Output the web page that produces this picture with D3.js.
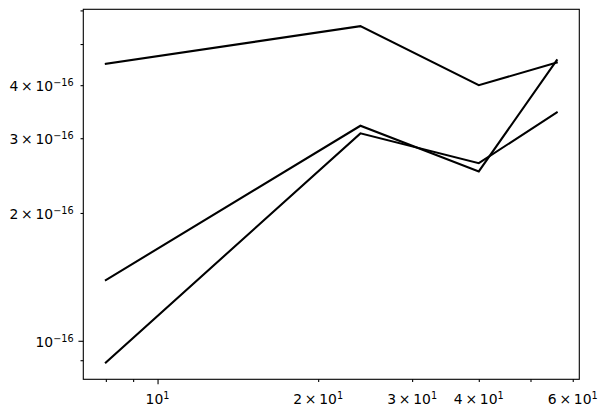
<!DOCTYPE html>
<html>
<head>
<meta charset="utf-8">
<script src="https://cdn.jsdelivr.net/npm/d3@7"></script>
<style>
  html, body { margin: 0; padding: 0; background: #fff; }
  svg { display: block; }
  text { font-family: "DejaVu Sans", sans-serif; }
</style>
</head>
<body>
<svg id="chart" width="607" height="417"></svg>
<script>
// ---- data ----
const xValues = [8, 24, 40, 56];
const seriesA = [4.49e-16, 5.51e-16, 4.00e-16, 4.52e-16];
const seriesB = [1.39e-16, 3.21e-16, 2.505e-16, 4.58e-16];
const seriesC = [0.889e-16, 3.08e-16, 2.62e-16, 3.45e-16];
const allSeries = [seriesA, seriesB, seriesC];

const xMajorTicks = [10];
const xMinorTicks = [8, 9, 20, 30, 40, 50, 60];
const xTickLabels = [
  { v: 10, main: "10", sup: "1" },
  { v: 20, main: "2\u2009\u00d7\u200910", sup: "1" },
  { v: 30, main: "3\u2009\u00d7\u200910", sup: "1" },
  { v: 40, main: "4\u2009\u00d7\u200910", sup: "1" },
  { v: 60, main: "6\u2009\u00d7\u200910", sup: "1" }
];
const yMajorTicks = [1e-16];
const yMinorTicks = [9e-17, 2e-16, 3e-16, 4e-16, 5e-16, 6e-16];
const yTickLabels = [
  { v: 1e-16, main: "10", sup: "\u221216" },
  { v: 2e-16, main: "2\u2009\u00d7\u200910", sup: "\u221216" },
  { v: 3e-16, main: "3\u2009\u00d7\u200910", sup: "\u221216" },
  { v: 4e-16, main: "4\u2009\u00d7\u200910", sup: "\u221216" }
];

// ---- layout ----
const pLeft = 83.3, pRight = 579.3, pTop = 9.3, pBottom = 379.3;
const fontPx = 13.9, supPx = 9.7;
const majorLen = 4.86, minorLen = 2.78, pad = 4.86;

function logDomain(vals) {
  const lo = Math.log10(d3.min(vals)), hi = Math.log10(d3.max(vals));
  const m = (hi - lo) * 0.05;
  return [Math.pow(10, lo - m), Math.pow(10, hi + m)];
}

const x = d3.scaleLog().domain(logDomain(xValues)).range([pLeft, pRight]);
const y = d3.scaleLog().domain(logDomain(allSeries.flat())).range([pBottom, pTop]);

const svg = d3.select("#chart");

// lines
const line = d3.line().x((d, i) => x(xValues[i])).y(d => y(d));
svg.append("g").selectAll("path").data(allSeries).join("path")
  .attr("d", d => line(d))
  .attr("fill", "none")
  .attr("stroke", "#000")
  .attr("stroke-width", 2.08)
  .attr("stroke-linejoin", "miter")
  .attr("stroke-linecap", "square");

// axes ticks
function ticks(g, axis) {
  g.call(axis);
  g.select(".domain").remove();
  g.selectAll("line").attr("stroke", "#000").attr("stroke-width", 1.1);
  g.selectAll("text").remove();
}
svg.append("g").attr("transform", `translate(0,${pBottom})`)
  .call(g => ticks(g, d3.axisBottom(x).tickValues(xMajorTicks).tickSize(majorLen)));
svg.append("g").attr("transform", `translate(0,${pBottom})`)
  .call(g => ticks(g, d3.axisBottom(x).tickValues(xMinorTicks).tickSize(minorLen)));
svg.append("g").attr("transform", `translate(${pLeft},0)`)
  .call(g => ticks(g, d3.axisLeft(y).tickValues(yMajorTicks).tickSize(majorLen)));
svg.append("g").attr("transform", `translate(${pLeft},0)`)
  .call(g => ticks(g, d3.axisLeft(y).tickValues(yMinorTicks.filter(v => y(v) >= pTop - 0.5)).tickSize(minorLen)));

// tick labels
function label(t, d) {
  t.append("tspan").text(d.main);
  t.append("tspan").attr("font-size", supPx).attr("dy", -5).text(d.sup);
}
svg.append("g").selectAll("text").data(xTickLabels).join("text")
  .attr("x", d => x(d.v))
  .attr("y", 404)
  .attr("text-anchor", "middle")
  .attr("font-size", fontPx)
  .attr("fill", "#000")
  .each(function (d) { label(d3.select(this), d); });
svg.append("g").selectAll("text").data(yTickLabels).join("text")
  .attr("x", pLeft - majorLen - pad)
  .attr("y", d => y(d.v) + 6.2)
  .attr("text-anchor", "end")
  .attr("font-size", fontPx)
  .attr("fill", "#000")
  .each(function (d) { label(d3.select(this), d); });

// frame
svg.append("rect")
  .attr("x", pLeft).attr("y", pTop)
  .attr("width", pRight - pLeft).attr("height", pBottom - pTop)
  .attr("fill", "none").attr("stroke", "#000").attr("stroke-width", 1.1);
</script>
</body>
</html>
